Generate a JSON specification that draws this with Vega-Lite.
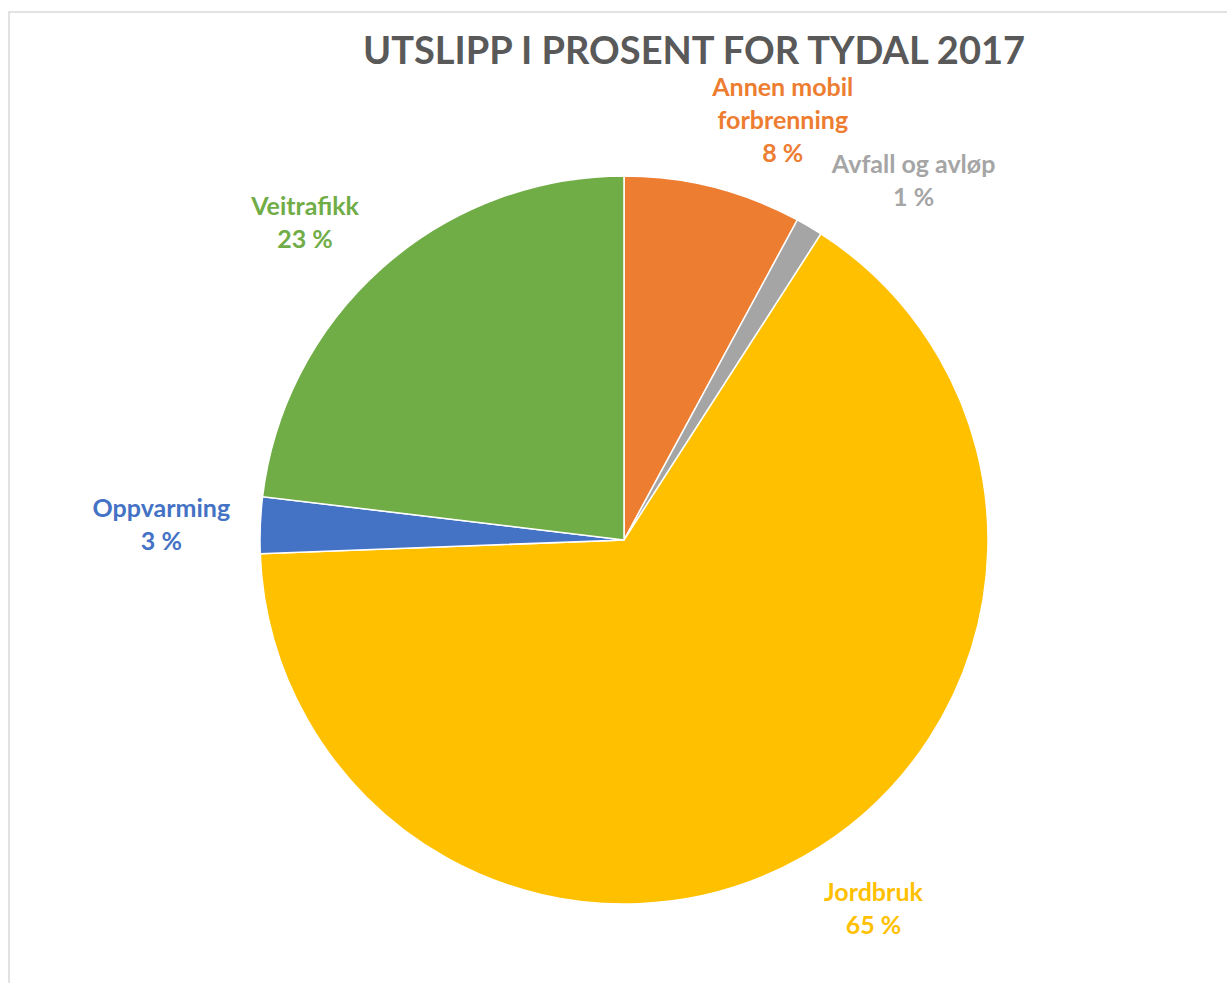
{
  "$schema": "https://vega.github.io/schema/vega-lite/v6.json",
  "autosize": {"type": "none"},
  "padding": {"left": 9, "top": 12, "right": 0, "bottom": 0},
  "width": 1230,
  "height": 1056,
  "background": "white",
  "view": {"stroke": "#d9d9d9", "strokeWidth": 1.5},
  "config": {"font": "Lato"},
  "title": {
    "text": "UTSLIPP I PROSENT FOR TYDAL 2017",
    "font": "Lato",
    "fontSize": 38,
    "fontWeight": "bold",
    "color": "#595959",
    "anchor": "middle",
    "dx": 70,
    "offset": -60
  },
  "data": {
    "values": [
      {"kategori": "Annen mobil forbrenning", "andel": 7.9, "label": "Annen mobil\nforbrenning\n8 %"},
      {"kategori": "Avfall og avløp", "andel": 1.2, "label": "Avfall og avløp\n1 %"},
      {"kategori": "Jordbruk", "andel": 65.3, "label": "Jordbruk\n65 %"},
      {"kategori": "Oppvarming", "andel": 2.5, "label": "Oppvarming\n3 %"},
      {"kategori": "Veitrafikk", "andel": 23.1, "label": "Veitrafikk\n23 %"}
    ]
  },
  "encoding": {
    "theta": {"field": "andel", "type": "quantitative", "stack": true},
    "order": {"field": "kategori", "sort": "ascending"},
    "color": {
      "field": "kategori",
      "type": "nominal",
      "scale": {
        "domain": ["Annen mobil forbrenning", "Avfall og avløp", "Jordbruk", "Oppvarming", "Veitrafikk"],
        "range": ["#ED7D31", "#A5A5A5", "#FFC000", "#4472C4", "#70AD47"]
      },
      "legend": null
    }
  },
  "layer": [
    {"mark": {"type": "arc", "outerRadius": 364, "stroke": "white", "strokeWidth": 1.5}},
    {
      "mark": {"type": "text", "radius": 455, "fontSize": 25, "fontWeight": "bold", "lineBreak": "\n", "lineHeight": 33, "baseline": "middle", "dx": 47, "dy": -11},
      "encoding": {"text": {"condition": {"test": "datum.kategori === 'Annen mobil forbrenning'", "field": "label"}, "value": ""}}
    },
    {
      "mark": {"type": "text", "radius": 455, "fontSize": 25, "fontWeight": "bold", "lineBreak": "\n", "lineHeight": 33, "baseline": "middle", "dx": 58, "dy": 17},
      "encoding": {"text": {"condition": {"test": "datum.kategori === 'Avfall og avløp'", "field": "label"}, "value": ""}}
    },
    {
      "mark": {"type": "text", "radius": 455, "fontSize": 25, "fontWeight": "bold", "lineBreak": "\n", "lineHeight": 33, "baseline": "middle", "dx": 24, "dy": -42},
      "encoding": {"text": {"condition": {"test": "datum.kategori === 'Jordbruk'", "field": "label"}, "value": ""}}
    },
    {
      "mark": {"type": "text", "radius": 455, "fontSize": 25, "fontWeight": "bold", "lineBreak": "\n", "lineHeight": 33, "baseline": "middle", "dx": -8, "dy": -12},
      "encoding": {"text": {"condition": {"test": "datum.kategori === 'Oppvarming'", "field": "label"}, "value": ""}}
    },
    {
      "mark": {"type": "text", "radius": 455, "fontSize": 25, "fontWeight": "bold", "lineBreak": "\n", "lineHeight": 33, "baseline": "middle", "dx": -17, "dy": 7},
      "encoding": {"text": {"condition": {"test": "datum.kategori === 'Veitrafikk'", "field": "label"}, "value": ""}}
    }
  ]
}
